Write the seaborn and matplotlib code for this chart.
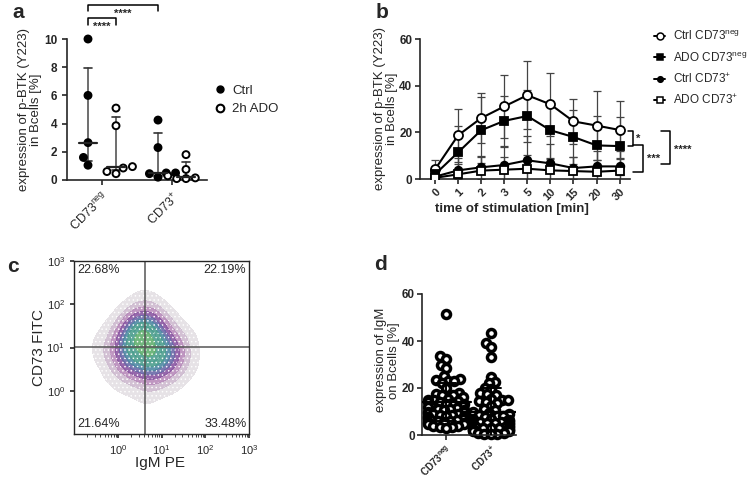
import warnings
import numpy as np
import pandas as pd
import matplotlib
matplotlib.use("Agg")
import matplotlib.pyplot as plt
from matplotlib.colors import ListedColormap
from matplotlib.lines import Line2D
import seaborn as sns

warnings.filterwarnings("ignore")

sns.set_style("ticks")
plt.rcParams["font.family"] = ["Liberation Sans", "DejaVu Sans"]
plt.rcParams["mathtext.fontset"] = "custom"
plt.rcParams["mathtext.rm"] = "Liberation Sans"
plt.rcParams["mathtext.bf"] = "Liberation Sans:bold"
plt.rcParams["axes.linewidth"] = 1.2
plt.rcParams["xtick.major.width"] = 1.2
plt.rcParams["ytick.major.width"] = 1.2
plt.rcParams["hatch.color"] = "white"
plt.rcParams["hatch.linewidth"] = 0.6

# ---- panel a: p-BTK after 2h ADO ----
a_groups = ["CD73neg", "CD73+"]
a_treat = ["Ctrl", "2h ADO"]
a_ctrl_neg = [10.0, 6.0, 2.65, 1.6, 1.05]
a_ado_neg = [5.1, 3.85, 0.95, 0.85, 0.45, 0.6]
a_ctrl_pos = [4.25, 2.3, 0.5, 0.45, 0.2, 0.5]
a_ado_pos = [1.8, 0.75, 0.3, 0.15, 0.1, 0.1]
# median and range, order: ctrl neg, ado neg, ctrl pos, ado pos
a_median = [2.65, 0.9, 0.5, 0.2]
a_low = [1.35, 0.7, 0.3, 0.1]
a_high = [7.95, 4.45, 3.3, 1.25]

# ---- panel b: kinetics ----
b_times = ["0", "1", "2", "3", "5", "10", "15", "20", "30"]
b_labels = [r"Ctrl CD73$^{\mathregular{neg}}$", r"ADO CD73$^{\mathregular{neg}}$",
            r"Ctrl CD73$^{+}$", r"ADO CD73$^{+}$"]
b_ctrl_neg = [4.1, 18.7, 26.1, 31.1, 35.9, 32.0, 24.7, 22.9, 21.0]
b_ctrl_neg_sd = [3.9, 11.3, 10.8, 13.6, 14.5, 13.4, 9.6, 14.8, 12.6]
b_ado_neg = [2.0, 11.4, 20.9, 24.9, 27.0, 20.9, 18.0, 14.4, 14.1]
b_ado_neg_sd = [2.0, 11.2, 14.1, 10.8, 11.3, 12.0, 11.7, 12.6, 12.5]
b_ctrl_pos = [1.0, 3.7, 5.0, 6.0, 8.0, 6.7, 4.7, 5.4, 5.4]
b_ctrl_pos_sd = [1.5, 5.3, 5.0, 7.6, 10.3, 8.2, 4.9, 6.5, 6.5]
b_ado_pos = [0.5, 2.0, 3.6, 4.0, 4.4, 3.7, 3.4, 3.1, 3.6]
b_ado_pos_sd = [0.8, 4.3, 5.9, 5.3, 5.9, 5.0, 5.9, 5.2, 5.4]

# ---- panel c: flow dot plot, density read on a log grid ----
c_xexp = [-0.75, -0.5, -0.25, 0.0, 0.25, 0.5, 0.75, 1.0, 1.25, 1.5, 1.75, 2.0, 2.25]
c_yexp = [2.25, 2.0, 1.75, 1.5, 1.25, 1.0, 0.75, 0.5, 0.25, 0.0, -0.25]
c_density = [
    [0, 0, 0, 0, 0, 1, 1, 0, 0, 0, 0, 0, 0],
    [0, 0, 0, 0, 1, 2, 2, 1, 0, 0, 0, 0, 0],
    [0, 0, 0, 1, 3, 5, 5, 3, 1, 0, 0, 0, 0],
    [0, 0, 1, 2, 6, 9, 8, 5, 2, 1, 0, 0, 0],
    [0, 1, 1, 4, 8, 10, 9, 7, 4, 2, 1, 0, 0],
    [0, 1, 2, 5, 8, 9, 9, 8, 6, 3, 1, 0, 0],
    [0, 1, 2, 4, 7, 8, 9, 8, 6, 3, 1, 0, 0],
    [0, 0, 1, 3, 5, 6, 7, 6, 4, 2, 1, 0, 0],
    [0, 0, 1, 1, 2, 3, 4, 3, 2, 1, 0, 0, 0],
    [0, 0, 0, 1, 1, 1, 2, 1, 1, 0, 0, 0, 0],
    [0, 0, 0, 0, 0, 1, 1, 0, 0, 0, 0, 0, 0],
]
c_gate_x = 4.1
c_gate_y = 10.5
c_quadrants = ["22.68%", "22.19%", "21.64%", "33.48%"]

# ---- panel d: IgM expression ----
d_groups = ["CD73neg", "CD73+"]
d_neg = [51.5, 33.5, 32.2, 30, 28.5, 25, 24, 23.5, 23, 23, 22, 20, 18, 17.5, 17, 17,
         16, 15.5, 15, 15, 14.5, 14, 14, 13.5, 13, 13, 12.5, 12, 12, 11.5, 11, 11,
         10.5, 10.5, 10, 10, 9.5, 9, 9, 8.5, 8.5, 8, 8, 7.5, 7.5, 7, 7, 7, 6.5, 6.5,
         6, 6, 5.5, 5.5, 5, 5, 4.5, 4.5, 4, 4, 3.5, 3.5, 3]
d_pos = [43.5, 39, 37.5, 33, 24.5, 22.5, 22, 20, 19.5, 18, 17.5, 17, 15.5, 15, 15,
         14.5, 14, 13.5, 12.5, 11, 10.5, 10, 9.5, 9, 8.5, 8, 8, 7.5, 7, 7, 6.5, 6.5,
         6, 6, 6, 5.5, 5.5, 5, 5, 5, 4.5, 4.5, 4.5, 4, 4, 4, 3.5, 3.5, 3.5, 3, 3, 3,
         2.5, 2.5, 2, 2, 1.5, 1.5, 1, 1, 0.5, 0.5, 0.3]
d_mean = [14.0, 9.9]
d_sd = [8.0, 10.2]

neg_lbl = r"CD73$^{\mathregular{neg}}$"
pos_lbl = r"CD73$^{+}$"
neg_lbl_b = r"CD73$^{\mathbf{neg}}$"
pos_lbl_b = r"CD73$^{\mathbf{+}}$"

W, H = 750, 478
fig = plt.figure(figsize=(7.5, 4.78), dpi=100)


def px_axes(left, top, right, bottom):
    return fig.add_axes([left / W, 1 - bottom / H, (right - left) / W, (bottom - top) / H])


ax_a = px_axes(67, 39, 207, 180)
ax_b = px_axes(420, 39, 630, 179)
ax_c = px_axes(74, 261, 249, 434)
ax_d = px_axes(422, 294, 516, 435)

# ================= a =================
df_a = pd.DataFrame({
    "group": ["CD73neg"] * (len(a_ctrl_neg) + len(a_ado_neg)) + ["CD73+"] * (len(a_ctrl_pos) + len(a_ado_pos)),
    "treat": ["Ctrl"] * len(a_ctrl_neg) + ["2h ADO"] * len(a_ado_neg)
             + ["Ctrl"] * len(a_ctrl_pos) + ["2h ADO"] * len(a_ado_pos),
    "value": a_ctrl_neg + a_ado_neg + a_ctrl_pos + a_ado_pos,
})
sns.swarmplot(data=df_a, x="group", y="value", hue="treat", order=a_groups, hue_order=a_treat,
              dodge=True, palette={"Ctrl": "black", "2h ADO": "white"}, edgecolor="black",
              linewidth=1.4, size=5, legend=False, clip_on=False, zorder=3, ax=ax_a)
a_pos = [-0.2, 0.2, 0.8, 1.2]
for p, m, lo, hi in zip(a_pos, a_median, a_low, a_high):
    ax_a.plot([p, p], [lo, hi], color="#555555", lw=1.2, zorder=2)
    ax_a.plot([p - 0.06, p + 0.06], [lo, lo], color="#333333", lw=1.2, zorder=2)
    ax_a.plot([p - 0.06, p + 0.06], [hi, hi], color="#333333", lw=1.2, zorder=2)
    ax_a.plot([p - 0.13, p + 0.13], [m, m], color="#222222", lw=1.6, zorder=4)
ax_a.set_xlim(-0.5, 1.5)
ax_a.set_ylim(0, 10)
ax_a.set_yticks([0, 2, 4, 6, 8, 10])
ax_a.set_xticks([0, 1])
ax_a.set_xticklabels([neg_lbl, pos_lbl], rotation=45, ha="right", rotation_mode="anchor", fontsize=9)
ax_a.set_xlabel("")
ax_a.set_ylabel("expression of p-BTK (Y223)\nin Bcells [%]", fontsize=9.5, linespacing=1.05)
ax_a.yaxis.set_label_coords(-0.175, 0.5)
for t in ax_a.get_yticklabels():
    t.set_fontweight("bold")
    t.set_fontsize(8.5)
sns.despine(ax=ax_a)
# significance brackets
for x0, x1, yl, yt, ty in [(-0.2, 0.8, 12.4, 12.0, 11.75), (-0.2, 0.2, 11.5, 11.0, 10.85)]:
    ax_a.plot([x0, x0, x1, x1], [yt, yl, yl, yt], color="black", lw=1.1, clip_on=False)
    ax_a.text((x0 + x1) / 2, ty, "****", ha="center", va="center", fontsize=8, fontweight="bold")
a_handles = [Line2D([], [], ls="", marker="o", mfc="black", mec="black", ms=5),
             Line2D([], [], ls="", marker="o", mfc="white", mec="black", mew=1.5, ms=5.5)]
fig.legend(a_handles, a_treat, loc="center left", bbox_to_anchor=(203 / W, 1 - 100 / H),
           frameon=False, fontsize=9.5, handlelength=0.8, handletextpad=0.5, labelspacing=0.45)

# ================= b =================
b_series = [
    (b_ctrl_neg, b_ctrl_neg_sd, "o", "white", 6.5),
    (b_ado_neg, b_ado_neg_sd, "s", "black", 6),
    (b_ctrl_pos, b_ctrl_pos_sd, "o", "black", 5.5),
    (b_ado_pos, b_ado_pos_sd, "s", "white", 6),
]
xpos = np.arange(len(b_times))
for vals, sd, mk, fc, ms in b_series:
    ax_b.errorbar(xpos, vals, yerr=sd, fmt="none", ecolor="#444444", elinewidth=0.9,
                  capsize=3, capthick=0.9, zorder=1)
b_handles = []
for (vals, sd, mk, fc, ms), lbl in zip(b_series, b_labels):
    df_b = pd.DataFrame({"t": xpos, "v": vals})
    sns.lineplot(data=df_b, x="t", y="v", ax=ax_b, color="black", lw=1.5, marker=mk,
                 markerfacecolor=fc, markeredgecolor="black", markeredgewidth=1.3, markersize=ms,
                 zorder=3)
    b_handles.append(Line2D([], [], color="black", lw=1.4, marker=mk, mfc=fc, mec="black",
                            mew=1.1, ms=ms - 1.5))
ax_b.set_xlim(-0.65, 8.45)
ax_b.set_ylim(0, 60)
ax_b.set_yticks([0, 20, 40, 60])
ax_b.set_xticks(xpos)
ax_b.set_xticklabels(b_times, rotation=45, ha="right", rotation_mode="anchor",
                     fontsize=8, fontweight="bold")
ax_b.tick_params(axis="x", pad=2)
ax_b.tick_params(axis="y", pad=2)
for t in ax_b.get_yticklabels():
    t.set_fontweight("bold")
    t.set_fontsize(8.5)
ax_b.set_xlabel("time of stimulation [min]", fontsize=9.5, fontweight="bold")
ax_b.xaxis.set_label_coords(0.44, -0.17)
ax_b.set_ylabel("expression of p-BTK (Y223)\nin Bcells [%]", fontsize=9.5, linespacing=1.05)
ax_b.yaxis.set_label_coords(-0.105, 0.5)
sns.despine(ax=ax_b)
# brackets on the right
for xs_, ys_ in [([8.35, 8.6, 8.6, 8.35], [20.6, 20.6, 14.1, 14.1]),
                 ([8.6, 9.0, 9.0, 8.6], [14.6, 14.6, 3.0, 3.0]),
                 ([9.8, 10.2, 10.2, 9.8], [20.6, 20.6, 6.4, 6.4])]:
    ax_b.plot(xs_, ys_, color="black", lw=1.1, clip_on=False)
ax_b.text(8.8, 17.0, "*", fontsize=8, fontweight="bold", va="center", ha="center")
ax_b.text(9.45, 8.5, "***", fontsize=8, fontweight="bold", va="center", ha="center")
ax_b.text(10.75, 12.5, "****", fontsize=8, fontweight="bold", va="center", ha="center")
fig.legend(b_handles, b_labels, loc="upper left", bbox_to_anchor=(643 / W, 1 - 19 / H),
           frameon=False, fontsize=8.5, handlelength=1.0, handletextpad=0.6, labelspacing=0.62)

# ================= c =================
cx, cy, cw = [], [], []
for i, ye in enumerate(c_yexp):
    for j, xe in enumerate(c_xexp):
        if c_density[i][j] > 0:
            cx.append(10 ** xe)
            cy.append(10 ** ye)
            cw.append(c_density[i][j])
flow_cmap = ListedColormap(["#e4dfe4", "#cdb9cf", "#b88bbb", "#a068a8", "#8a57a2",
                            "#6a6aa8", "#4f88a3", "#4c9e8e", "#62b070"])
sns.kdeplot(x=cx, y=cy, weights=cw, fill=True, log_scale=True, levels=10, thresh=0.05,
            cmap=flow_cmap, bw_adjust=0.8, alpha=0.9, ax=ax_c)
for coll in ax_c.collections:
    coll.set_hatch("....")
ax_c.set_xlim(0.1, 1000)
ax_c.set_ylim(0.1, 1000)
ax_c.axvline(c_gate_x, color="#555555", lw=1.1)
ax_c.axhline(c_gate_y, color="#555555", lw=1.1)
ax_c.set_xticks([1, 10, 100, 1000])
ax_c.set_yticks([1, 10, 100, 1000])
ax_c.yaxis.set_minor_locator(matplotlib.ticker.NullLocator())
ax_c.tick_params(which="major", length=3, labelsize=8)
ax_c.tick_params(which="minor", length=2)
for s in ax_c.spines.values():
    s.set_linewidth(1.0)
ax_c.set_xlabel("IgM PE", fontsize=11)
ax_c.xaxis.set_label_coords(0.49, -0.13)
ax_c.set_ylabel("CD73 FITC", fontsize=11)
ax_c.yaxis.set_label_coords(-0.16, 0.5)
ax_c.text(0.02, 0.985, c_quadrants[0], transform=ax_c.transAxes, ha="left", va="top", fontsize=9)
ax_c.text(0.985, 0.985, c_quadrants[1], transform=ax_c.transAxes, ha="right", va="top", fontsize=9)
ax_c.text(0.02, 0.025, c_quadrants[2], transform=ax_c.transAxes, ha="left", va="bottom", fontsize=9)
ax_c.text(0.985, 0.025, c_quadrants[3], transform=ax_c.transAxes, ha="right", va="bottom", fontsize=9)

# ================= d =================
df_d = pd.DataFrame({"group": ["CD73neg"] * len(d_neg) + ["CD73+"] * len(d_pos),
                     "value": d_neg + d_pos})
sns.swarmplot(data=df_d, x="group", y="value", order=d_groups, color="white",
              edgecolor="black", linewidth=1.0, size=3.4, clip_on=False, zorder=2, ax=ax_d)
for k, (m, sd) in enumerate(zip(d_mean, d_sd)):
    ax_d.plot([k, k], [m - sd, m + sd], color="black", lw=1.4, zorder=3)
    ax_d.plot([k - 0.22, k + 0.22], [m + sd, m + sd], color="black", lw=1.4, zorder=3)
    ax_d.plot([k - 0.22, k + 0.22], [m - sd, m - sd], color="black", lw=1.4, zorder=3)
    ax_d.plot([k - 0.55, k + 0.55], [m, m], color="black", lw=1.6, zorder=3)
ax_d.set_xlim(-0.53, 1.56)
ax_d.set_ylim(0, 60)
ax_d.set_yticks([0, 20, 40, 60])
ax_d.set_xticks([0, 1])
ax_d.set_xticklabels([neg_lbl_b, pos_lbl_b], rotation=45, ha="right", rotation_mode="anchor",
                     fontsize=7, fontweight="bold")
ax_d.tick_params(axis="x", pad=2)
ax_d.tick_params(axis="y", pad=1.5)
for t in ax_d.get_yticklabels():
    t.set_fontweight("bold")
    t.set_fontsize(8.5)
ax_d.set_xlabel("")
ax_d.set_ylabel("expression of IgM\non Bcells [%]", fontsize=9.5, linespacing=1.05)
ax_d.yaxis.set_label_coords(-0.235, 0.53)
sns.despine(ax=ax_d)

# panel letters
for lbl, x, y in [("a", 18, 13), ("b", 382, 13), ("c", 13, 267), ("d", 380, 264)]:
    fig.text(x / W, 1 - y / H, lbl, fontsize=15, fontweight="bold", ha="center", va="center")

# lay the swarm out with small dots, then freeze it and draw the dots larger so they overlap
fig.canvas.draw()
for coll in ax_d.collections:
    if "draw" in coll.__dict__:
        del coll.draw
    coll.set_sizes([5.8 ** 2])
    coll.set_linewidth(2.5)

fig.savefig("out.png", dpi=100)
